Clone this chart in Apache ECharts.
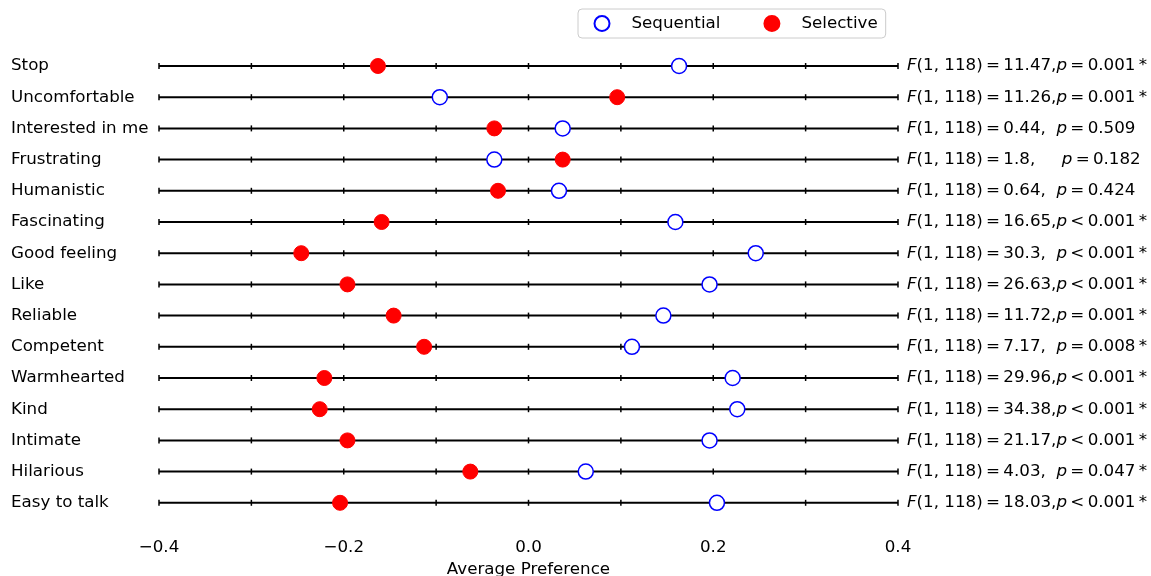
<!DOCTYPE html>
<html>
<head>
<meta charset="utf-8">
<script src="https://cdn.jsdelivr.net/npm/echarts@6/dist/echarts.min.js"></script>
<style>
html,body{margin:0;padding:0;background:#fff;}
#chart{width:1151px;height:576px;}
</style>
</head>
<body>
<div id="chart"></div>
<script>
var categories = ['Stop','Uncomfortable','Interested in me','Frustrating','Humanistic','Fascinating','Good feeling','Like','Reliable','Competent','Warmhearted','Kind','Intimate','Hilarious','Easy to talk'];
var sequential = [0.163, -0.096, 0.037, -0.037, 0.033, 0.159, 0.246, 0.196, 0.146, 0.112, 0.221, 0.226, 0.196, 0.062, 0.204];
var selective = [-0.163, 0.096, -0.037, 0.037, -0.033, -0.159, -0.246, -0.196, -0.146, -0.113, -0.221, -0.226, -0.196, -0.063, -0.204];
var annotations = [
  'F(1, 118) = 11.47,p = 0.001 *',
  'F(1, 118) = 11.26,p = 0.001 *',
  'F(1, 118) = 0.44,  p = 0.509',
  'F(1, 118) = 1.8,     p = 0.182',
  'F(1, 118) = 0.64,  p = 0.424',
  'F(1, 118) = 16.65,p < 0.001 *',
  'F(1, 118) = 30.3,  p < 0.001 *',
  'F(1, 118) = 26.63,p < 0.001 *',
  'F(1, 118) = 11.72,p = 0.001 *',
  'F(1, 118) = 7.17,  p = 0.008 *',
  'F(1, 118) = 29.96,p < 0.001 *',
  'F(1, 118) = 34.38,p < 0.001 *',
  'F(1, 118) = 21.17,p < 0.001 *',
  'F(1, 118) = 4.03,  p = 0.047 *',
  'F(1, 118) = 18.03,p < 0.001 *'
];
var tickValues = [-0.4, -0.3, -0.2, -0.1, 0.0, 0.1, 0.2, 0.3, 0.4];
var xMin = -0.4, xMax = 0.4;

var FONT = 'DejaVu Sans';
var FS = 16.7;
var THIN = '\u2009';
var chart = echarts.init(document.getElementById('chart'), null, {renderer: 'canvas'});

function annotFormatter(s) {
  var m = s.match(/^F(.*?)(\s*)p(.*)$/);
  if (!m) return s;
  var tidy = function (t) {
    return t.replace(/ ([=<]) /g, THIN + '$1' + THIN).replace(/ \*$/, THIN + '*');
  };
  return '{i|F}{n|' + tidy(m[1]) + m[2] + '}{i|p}{n|' + tidy(m[3]) + '}';
}

chart.setOption({
  animation: false,
  backgroundColor: '#fff',
  textStyle: {fontFamily: FONT},
  legend: {
    left: 578, top: 9,
    padding: [6, 8, 6, 15.5],
    itemGap: 43,
    itemWidth: 15, itemHeight: 15,
    borderColor: '#cccccc', borderWidth: 1, borderRadius: 4,
    backgroundColor: '#fff',
    textStyle: {fontFamily: FONT, fontSize: FS, color: '#000', padding: [0, 0, 0, 17]},
    data: ['Sequential', 'Selective']
  },
  grid: {left: 159, right: 253, top: 50.4, bottom: 57.6, containLabel: false, outerBoundsMode: 'none'},
  xAxis: {
    type: 'value', min: xMin, max: xMax, interval: 0.2,
    axisLine: {show: false}, axisTick: {show: false}, splitLine: {show: false},
    axisLabel: {
      fontFamily: FONT, fontSize: FS, color: '#000', margin: 21,
      formatter: function (v) { return v.toFixed(1).replace('-', '\u2212'); }
    },
    name: 'Average Preference', nameLocation: 'middle', nameGap: 42,
    nameTextStyle: {fontFamily: FONT, fontSize: FS, color: '#000'}
  },
  yAxis: [{
    type: 'category', data: categories, inverse: true,
    axisLine: {show: false}, axisTick: {show: false}, splitLine: {show: false},
    axisLabel: {fontFamily: FONT, fontSize: FS, color: '#000', align: 'left', margin: 148}
  }, {
    type: 'category', data: annotations, inverse: true, position: 'right',
    axisLine: {show: false}, axisTick: {show: false}, splitLine: {show: false},
    axisLabel: {
      fontFamily: FONT, fontSize: FS, color: '#000', align: 'left', margin: 9,
      formatter: annotFormatter,
      rich: {
        i: {fontFamily: FONT, fontSize: FS, fontStyle: 'italic', color: '#000'},
        n: {fontFamily: FONT, fontSize: FS, color: '#000'}
      }
    }
  }],
  series: [{
    type: 'custom', z: 1, silent: true,
    data: categories.map(function (c) { return [0, c]; }),
    encode: {x: 0, y: 1},
    renderItem: function (params, api) {
      var idx = api.value(1);
      var p0 = api.coord([xMin, idx]);
      var p1 = api.coord([xMax, idx]);
      var children = [{
        type: 'line',
        shape: {x1: p0[0], y1: p0[1], x2: p1[0], y2: p1[1]},
        style: {stroke: '#000', lineWidth: 2}
      }];
      tickValues.forEach(function (v) {
        var p = api.coord([v, idx]);
        children.push({
          type: 'line',
          shape: {x1: p[0], y1: p[1] - 3, x2: p[0], y2: p[1] + 3},
          style: {stroke: '#000', lineWidth: 1.5}
        });
      });
      return {type: 'group', children: children};
    }
  }, {
    name: 'Sequential', type: 'scatter', z: 3, symbol: 'circle', symbolSize: 15,
    itemStyle: {color: '#ffffff', borderColor: '#0000ff', borderWidth: 1.5, opacity: 1},
    data: sequential.map(function (v, i) { return [v, categories[i]]; })
  }, {
    name: 'Selective', type: 'scatter', z: 3, symbol: 'circle', symbolSize: 15,
    itemStyle: {color: '#ff0000', borderColor: '#ff0000', borderWidth: 1, opacity: 1},
    data: selective.map(function (v, i) { return [v, categories[i]]; })
  }]
});
</script>
</body>
</html>
